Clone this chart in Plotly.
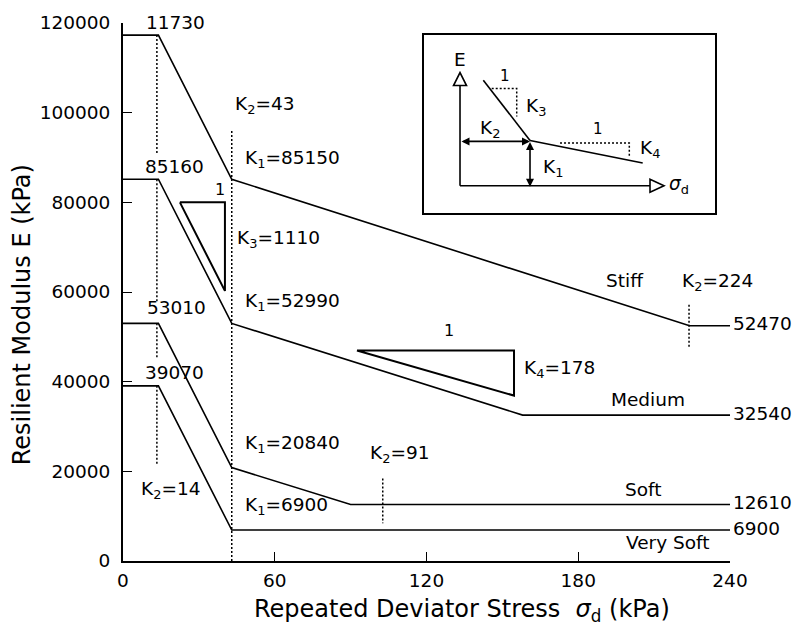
import plotly.graph_objects as go

# Resilient modulus models (bilinear with plateaus) for four subgrade classes
sigma_stiff = [0, 14, 43, 224, 240]
E_stiff = [117300, 117300, 85150, 52470, 52470]

sigma_medium = [0, 14, 43, 158, 240]
E_medium = [85160, 85160, 52990, 32540, 32540]

sigma_soft = [0, 14, 43, 90, 240]
E_soft = [53010, 53010, 20840, 12610, 12610]

sigma_vsoft = [0, 14, 43, 240]
E_vsoft = [39070, 39070, 6900, 6900]

# dotted guides marking breakpoints (x, E_top, E_bottom)
guide_k2_low = [(13.4, 117300, 91000), (13.4, 85160, 57800), (13.4, 53010, 45200), (13.4, 39070, 21700)]
guide_k2_43 = [(43, 95900, 0)]
guide_k2_91 = [(102.7, 18380, 8420)]
guide_k2_224 = [(223.8, 57150, 47400)]

# slope triangles (K3 and K4)
tri_k3_x = [22.5, 40.3, 40.3, 22.5]
tri_k3_E = [80000, 80000, 60240, 80000]
tri_k4_x = [92.5, 154.6, 154.6, 92.5]
tri_k4_E = [46950, 46950, 36900, 46950]

x_ticks = [0, 60, 120, 180, 240]
y_ticks = [0, 20000, 40000, 60000, 80000, 100000, 120000]

FONT = "DejaVu Sans"
FS = 18.5

fig = go.Figure()

curve_line = dict(color="black", width=1.6)
for xs, ys in [(sigma_stiff, E_stiff), (sigma_medium, E_medium),
               (sigma_soft, E_soft), (sigma_vsoft, E_vsoft)]:
    fig.add_trace(go.Scatter(x=xs, y=ys, mode="lines", line=curve_line,
                             showlegend=False, hoverinfo="skip", cliponaxis=False))

gx, gy = [], []
for seg in guide_k2_low + guide_k2_43 + guide_k2_91 + guide_k2_224:
    gx += [seg[0], seg[0], None]
    gy += [seg[1], seg[2], None]
fig.add_trace(go.Scatter(x=gx, y=gy, mode="lines",
                         line=dict(color="black", width=1.5, dash="2px,2px"),
                         showlegend=False, hoverinfo="skip"))

for tx, ty in [(tri_k3_x, tri_k3_E), (tri_k4_x, tri_k4_E)]:
    fig.add_trace(go.Scatter(x=tx, y=ty, mode="lines",
                             line=dict(color="black", width=2),
                             showlegend=False, hoverinfo="skip"))

annotations = []


def label(x, y, text, xanchor="center", size=FS, xref="x", yref="y", yshift=2, **kw):
    annotations.append(dict(x=x, y=y, xref=xref, yref=yref, text=text,
                            showarrow=False, xanchor=xanchor, yanchor="middle",
                            yshift=yshift,
                            font=dict(family=FONT, size=size, color="black"), **kw))


label(20.6, 119600, "11730")
label(20.2, 87500, "85160")
label(21.0, 56040, "53010")
label(20.2, 41640, "39070")
label(18.6, 15000, "K<sub>2</sub>=14", yshift=4)
label(43.5, 100600, "K<sub>2</sub>=43", "left", yshift=5)
label(47.4, 88600, "K<sub>1</sub>=85150", "left", yshift=5)
label(38.4, 82400, "1", size=16)
label(44.3, 70900, "K<sub>3</sub>=1110", "left", yshift=4)
label(47.4, 56950, "K<sub>1</sub>=52990", "left", yshift=4)
label(47.4, 25250, "K<sub>1</sub>=20840", "left", yshift=4)
label(47.4, 11300, "K<sub>1</sub>=6900", "left", yshift=4)
label(96.9, 23050, "K<sub>2</sub>=91", "left", yshift=4)
label(128.9, 50950, "1", size=16)
label(157.8, 41900, "K<sub>4</sub>=178", "left", yshift=4)
label(198.5, 62020, "Stiff")
label(220.2, 61400, "K<sub>2</sub>=224", "left", yshift=4)
label(207.6, 35660, "Medium")
label(205.6, 15500, "Soft")
label(215.5, 3770, "Very Soft")
for e_end in [E_stiff[-1], E_medium[-1], E_soft[-1], E_vsoft[-1]]:
    label(240, e_end, str(e_end), "left", xshift=1)

# axis titles
label(-0.1664, 0.4585, "Resilient Modulus E (kPa)", xref="paper", yref="paper",
      size=24, textangle=-90, yshift=0)
label(0.5593, -0.0923, "Repeated Deviator Stress  <i>σ</i><sub>d</sub> (kPa)",
      xref="paper", yref="paper", size=24, yshift=0)

# ---- inset schematic (local drawing units) ----
inset_axis_E = ([36, 36], [27, 128])
inset_axis_s = ([36, 226], [27, 27])
inset_steep = ([59.3, 106], [133.3, 72.7])
inset_shallow = ([106, 218.7], [72.7, 50])
inset_dot_k3 = ([67.7, 92.7, 92.7], [125, 125, 96.7])
inset_dot_k4 = ([136, 205.3, 205.3], [70, 70, 56.7])

for xs, ys in [inset_axis_E, inset_axis_s, inset_steep, inset_shallow]:
    fig.add_trace(go.Scatter(x=xs, y=ys, xaxis="x2", yaxis="y2", mode="lines",
                             line=dict(color="black", width=1.6),
                             showlegend=False, hoverinfo="skip"))
for xs, ys in [inset_dot_k3, inset_dot_k4]:
    fig.add_trace(go.Scatter(x=xs, y=ys, xaxis="x2", yaxis="y2", mode="lines",
                             line=dict(color="black", width=1.5, dash="2px,2px"),
                             showlegend=False, hoverinfo="skip"))

shapes = [
    dict(type="path", xref="x2", yref="y2", path="M 29.5 128 L 42.5 128 L 36 141 Z",
         fillcolor="white", line=dict(color="black", width=1.6)),
    dict(type="path", xref="x2", yref="y2", path="M 226 20.5 L 226 33.5 L 240 27 Z",
         fillcolor="white", line=dict(color="black", width=1.6)),
]

# double-headed dimension arrows
for (x0, y0, x1, y1) in [(36, 71.7, 106, 71.7), (106, 72.7, 106, 26)]:
    annotations.append(dict(x=x1, y=y1, ax=x0, ay=y0, xref="x2", yref="y2",
                            axref="x2", ayref="y2", text="", showarrow=True,
                            arrowhead=2, arrowside="end+start", arrowsize=1,
                            arrowwidth=1.6, arrowcolor="black", standoff=0,
                            startstandoff=0))

label(36, 152.5, "E", xref="x2", yref="y2")
label(243, 26, "<i>σ</i><sub>d</sub>", "left", xref="x2", yref="y2")
label(81, 136, "1", size=15, xref="x2", yref="y2")
label(100, 104, "K<sub>3</sub>", "left", xref="x2", yref="y2")
label(54, 82, "K<sub>2</sub>", "left", xref="x2", yref="y2")
label(117, 43, "K<sub>1</sub>", "left", xref="x2", yref="y2")
label(174.3, 82, "1", size=15, xref="x2", yref="y2")
label(214, 62, "K<sub>4</sub>", "left", xref="x2", yref="y2")

fig.update_layout(
    width=798, height=628,
    margin=dict(l=123, r=68, t=19, b=67),
    paper_bgcolor="white", plot_bgcolor="white",
    font=dict(family=FONT, size=FS, color="black"),
    showlegend=False,
    annotations=annotations,
    shapes=shapes,
    xaxis=dict(range=[0, 240], tickvals=x_ticks, ticks="inside", ticklen=9,
               tickwidth=1, tickcolor="black", showline=True, linewidth=2,
               linecolor="black", showgrid=False, zeroline=False,
               ticklabelstandoff=2, tickfont=dict(family=FONT, size=FS)),
    yaxis=dict(range=[0, 120000], tickvals=y_ticks, tickformat="d",
               ticks="inside", ticklen=9, tickwidth=1, tickcolor="black",
               showline=True, linewidth=2, linecolor="black", showgrid=False,
               zeroline=False, ticklabelstandoff=7,
               tickfont=dict(family=FONT, size=FS)),
    xaxis2=dict(domain=[0.4959, 0.9753], range=[0, 291], anchor="y2",
                showline=True, mirror=True, linewidth=2, linecolor="black",
                showticklabels=False, ticks="", showgrid=False, zeroline=False),
    yaxis2=dict(domain=[0.6476, 0.9779], range=[0, 179], anchor="x2",
                showline=True, mirror=True, linewidth=2, linecolor="black",
                showticklabels=False, ticks="", showgrid=False, zeroline=False),
)

fig.write_html("out.html")
